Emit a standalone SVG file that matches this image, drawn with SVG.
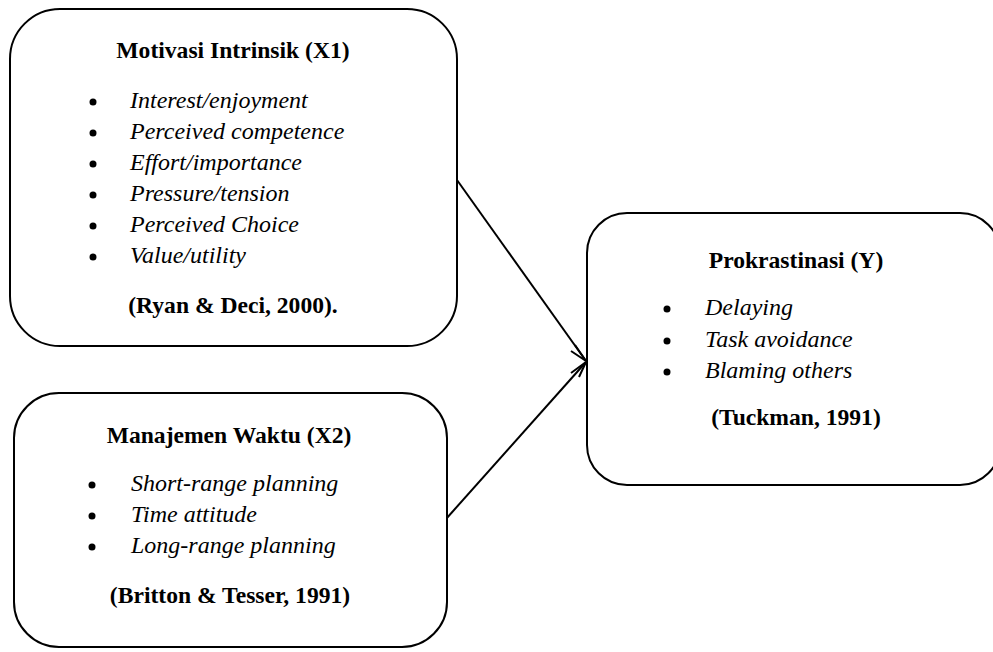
<svg xmlns="http://www.w3.org/2000/svg" width="993" height="652" viewBox="0 0 993 652">
<defs>
<style>
.box{fill:#fff;stroke:#000;stroke-width:2}
.t{font-family:"Liberation Serif","Times New Roman",serif;font-size:24px;fill:#000}
.b{font-weight:bold;text-anchor:middle;font-size:23.6px}
.i{font-style:italic}
.edge{stroke:#000;stroke-width:2;fill:none}
.head{stroke:#000;stroke-width:2;fill:none}
</style>
</defs>
<rect width="993" height="652" fill="#fff"/>
<g id="connectors">
<line class="edge" x1="457" y1="180" x2="586" y2="361"/>
<line class="edge" x1="446" y1="519" x2="586" y2="362"/>
<path class="head" d="M571,351 L586,361 L575,345"/>
<path class="head" d="M571,373 L586,362 L579,377"/>
</g>
<g id="x1">
<rect class="box" x="10" y="9" width="447" height="337" rx="50" ry="50"/>
<text class="t b" x="233" y="58">Motivasi Intrinsik (X1)</text>
<g fill="#000">
<circle cx="93" cy="102" r="3.5"/><circle cx="93" cy="133" r="3.5"/><circle cx="93" cy="164" r="3.5"/>
<circle cx="93" cy="195" r="3.5"/><circle cx="93" cy="226" r="3.5"/><circle cx="93" cy="257" r="3.5"/>
</g>
<text class="t i" x="130" y="108">Interest/enjoyment</text>
<text class="t i" x="130" y="139">Perceived competence</text>
<text class="t i" x="130" y="170">Effort/importance</text>
<text class="t i" x="130" y="201">Pressure/tension</text>
<text class="t i" x="130" y="232">Perceived Choice</text>
<text class="t i" x="130" y="263">Value/utility</text>
<text class="t b" x="233" y="313">(Ryan &amp; Deci, 2000).</text>
</g>
<g id="x2">
<rect class="box" x="14" y="393" width="433" height="254" rx="45" ry="45"/>
<text class="t b" x="229" y="443">Manajemen Waktu (X2)</text>
<g fill="#000">
<circle cx="92" cy="485" r="3.5"/><circle cx="92" cy="516" r="3.5"/><circle cx="92" cy="547" r="3.5"/>
</g>
<text class="t i" x="131" y="491">Short-range planning</text>
<text class="t i" x="131" y="522">Time attitude</text>
<text class="t i" x="131" y="553">Long-range planning</text>
<text class="t b" x="230" y="603">(Britton &amp; Tesser, 1991)</text>
</g>
<g id="y">
<rect class="box" x="587" y="213" width="413" height="272" rx="40" ry="40"/>
<text class="t b" x="796" y="268">Prokrastinasi (Y)</text>
<g fill="#000">
<circle cx="667" cy="309" r="3.5"/><circle cx="667" cy="341" r="3.5"/><circle cx="667" cy="372" r="3.5"/>
</g>
<text class="t i" x="705" y="315">Delaying</text>
<text class="t i" x="705" y="347">Task avoidance</text>
<text class="t i" x="705" y="378">Blaming others</text>
<text class="t b" x="796" y="425">(Tuckman, 1991)</text>
</g>
</svg>
